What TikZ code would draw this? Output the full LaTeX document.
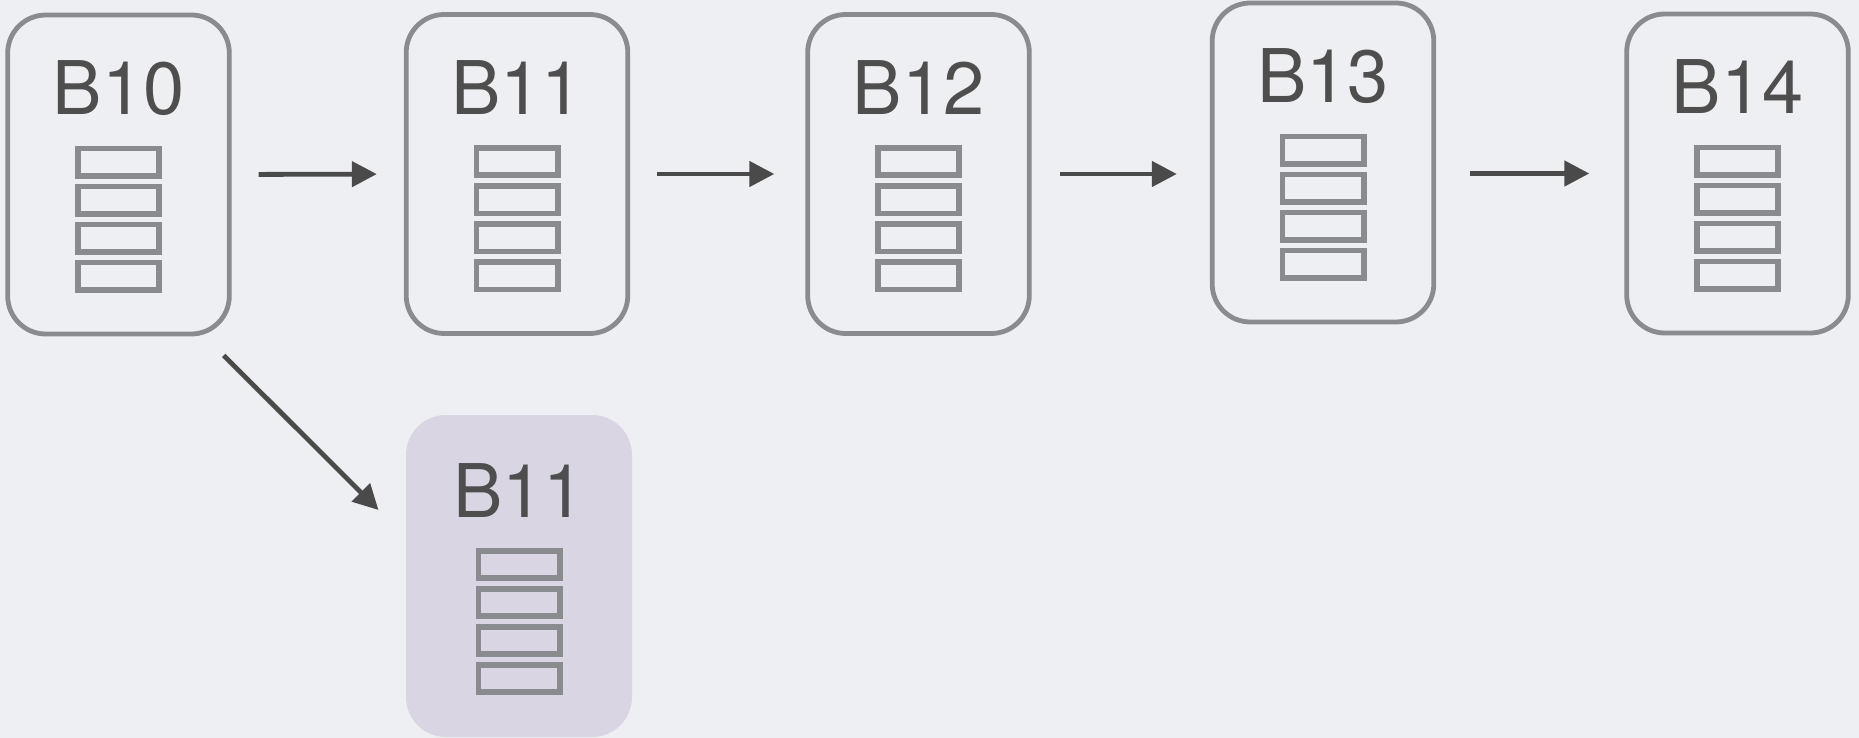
\documentclass[tikz,border=0pt]{standalone}
\usepackage{fontspec}
\setmainfont{TeX Gyre Heros}
\usetikzlibrary{arrows.meta,calc}

\definecolor{canvas}{HTML}{EEEFF2}
\definecolor{boxgray}{HTML}{8A8B8F}
\definecolor{labelgray}{HTML}{4E4E4E}
\definecolor{arrowgray}{HTML}{4A4A4A}
\definecolor{forkfill}{HTML}{DAD5E2}

% label and four record slots inside a block
\newcommand\blockparts[2]{%
  \node[blocklabel] (#1-t) at ($(#1.north)+(0,102)$) {#2};
  \foreach \k in {0,...,3}
    \node[slot] (#1-s\k) at ($(#1.north)+(0,149.5+38*\k)$) {};
}

\begin{document}
\begin{tikzpicture}[x=0.5pt,y=-0.5pt,
  blockbox/.style={draw=boxgray, line width=2.4pt, rounded corners=19pt,
    minimum width=110.8pt, minimum height=159.5pt, inner sep=0pt},
  blocklabel/.style={anchor=base, font=\fontsize{37}{37}\selectfont,
    text=labelgray, inner sep=0pt},
  slot/.style={draw=boxgray, line width=2.8pt, minimum width=40.7pt,
    minimum height=13.7pt, inner sep=0pt, outer sep=0pt},
  link/.style={draw=arrowgray, line width=2.4pt,
    -{Triangle[length=12.5pt,width=12.5pt]}}
]
\fill[canvas] (0,0) rectangle (1859,738);
\useasboundingbox (0,0) rectangle (1859,738);

% main chain
\node[blockbox] (b10) at (118.5,174.5) {};
\node[blockbox] (b11) at (517,174) {};
\node[blockbox] (b12) at (918.5,174) {};
\node[blockbox] (b13) at (1323,162.5) {};
\node[blockbox] (b14) at (1737.5,173.5) {};
% fork block
\node[fill=forkfill, rounded corners=20pt, minimum width=113pt,
  minimum height=161pt, inner sep=0pt, outer sep=0pt] (b11x) at (519,576) {};

\blockparts{b10}{B10}
\blockparts{b11}{B11}
\blockparts{b12}{B12}
\blockparts{b13}{B13}
\blockparts{b14}{B14}
\blockparts{b11x}{B11}

% connectors
\draw[link, shorten <=13.5pt, shorten >=13.5pt] (b10.east) -- (b11.west);
\draw[link, shorten <=13.5pt, shorten >=15.5pt] (b11.east) -- (b12.west);
\draw[link, shorten <=14pt, shorten >=16.5pt] (b12.east) -- (b12.east -| b13.west);
\draw[link, shorten <=17pt, shorten >=17.5pt] (b13.east |- b14.west) -- (b14.west);
\draw[link] ($(b10.south east)+(-8,19)$) -- ($(b11x.north west)+(-27.5,95)$);
\end{tikzpicture}
\end{document}
